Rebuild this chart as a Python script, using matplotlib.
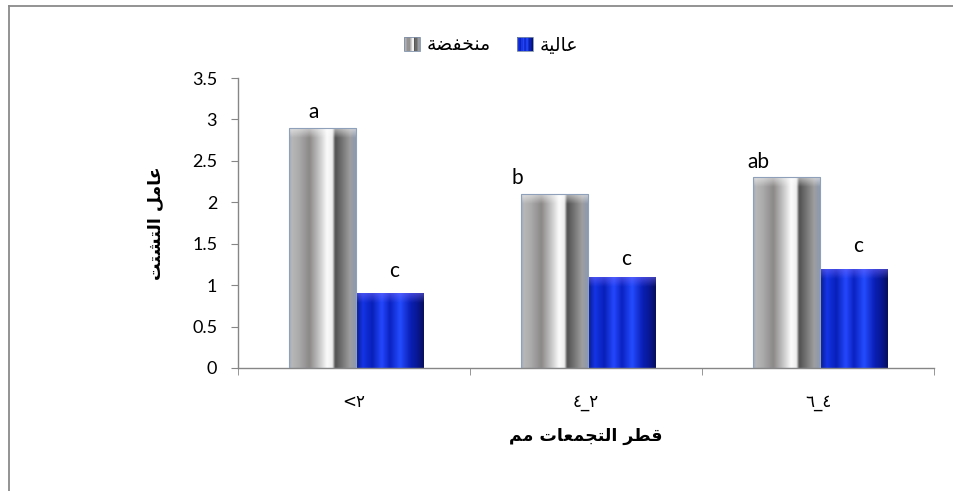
import numpy as np
import matplotlib
matplotlib.use("Agg")
import matplotlib.pyplot as plt
from matplotlib.colors import LinearSegmentedColormap
from matplotlib.legend_handler import HandlerBase
from matplotlib.patches import Rectangle, Patch
from matplotlib.lines import Line2D

# ---------------- data ----------------
# tick labels in visual (left-to-right) order
categories = ["\u003c\u0662", "\u0664_\u0662", "\u0666_\u0664"]
low_values = [2.9, 2.1, 2.3]
high_values = [0.9, 1.1, 1.2]
low_letters = ["a", "b", "ab"]
high_letters = ["c", "c", "c"]
series_names = ["منخفضة", "عالية"]
y_label = "عامل التشتت"
x_label = "قطر التجمعات مم"
y_ticks = [0, 0.5, 1, 1.5, 2, 2.5, 3, 3.5]

# ---------------- Arabic shaping (presentation forms, visual order) ----------------
FORMS = {
    "ا": (0xFE8D, 0xFE8E, None, None),
    "ة": (0xFE93, 0xFE94, None, None),
    "ر": (0xFEAD, 0xFEAE, None, None),
    "د": (0xFEA9, 0xFEAA, None, None),
    "ب": (0xFE8F, 0xFE90, 0xFE91, 0xFE92),
    "ت": (0xFE95, 0xFE96, 0xFE97, 0xFE98),
    "ج": (0xFE9D, 0xFE9E, 0xFE9F, 0xFEA0),
    "خ": (0xFEA5, 0xFEA6, 0xFEA7, 0xFEA8),
    "ش": (0xFEB5, 0xFEB6, 0xFEB7, 0xFEB8),
    "ض": (0xFEBD, 0xFEBE, 0xFEBF, 0xFEC0),
    "ط": (0xFEC1, 0xFEC2, 0xFEC3, 0xFEC4),
    "ع": (0xFEC9, 0xFECA, 0xFECB, 0xFECC),
    "ف": (0xFED1, 0xFED2, 0xFED3, 0xFED4),
    "ق": (0xFED5, 0xFED6, 0xFED7, 0xFED8),
    "ل": (0xFEDD, 0xFEDE, 0xFEDF, 0xFEE0),
    "م": (0xFEE1, 0xFEE2, 0xFEE3, 0xFEE4),
    "ن": (0xFEE5, 0xFEE6, 0xFEE7, 0xFEE8),
    "ي": (0xFEF1, 0xFEF2, 0xFEF3, 0xFEF4),
}


def shape(text):
    out = []
    n = len(text)
    for i, ch in enumerate(text):
        if ch not in FORMS:
            out.append(ch)
            continue
        prev = text[i - 1] if i > 0 else None
        nxt = text[i + 1] if i < n - 1 else None
        pj = prev in FORMS and FORMS[prev][2] is not None
        nj = nxt in FORMS and FORMS[ch][2] is not None
        iso, fin, ini, med = FORMS[ch]
        if pj and nj:
            cp = med
        elif pj:
            cp = fin
        elif nj:
            cp = ini
        else:
            cp = iso
        out.append(chr(cp))
    return "".join(reversed(out))


# ---------------- styles ----------------
gray_cmap = LinearSegmentedColormap.from_list("gray_cyl", [
    (0.00, "#9aa8bd"), (0.04, "#b8b8b8"), (0.15, "#aaaaaa"), (0.30, "#8c8888"),
    (0.45, "#c8c8c8"), (0.56, "#fbfbfb"), (0.64, "#eeeeee"), (0.68, "#505050"),
    (0.76, "#6c6c6c"), (0.90, "#9e9e9e"), (1.00, "#8898b2")])
blue_cmap = LinearSegmentedColormap.from_list("blue_str", [
    (0.00, "#0a1a88"), (0.10, "#1434e6"), (0.24, "#0820b8"), (0.38, "#2448ff"),
    (0.50, "#0a22c0"), (0.65, "#244cff"), (0.80, "#0a20b8"), (0.92, "#08168c"),
    (1.00, "#06105a")])

LATIN = "Lato"
ARABIC = "DejaVu Sans"

fig = plt.figure(figsize=(9.54, 4.91), dpi=100)
ax = fig.add_axes([238 / 954, 1 - 368 / 491, (934 - 238) / 954, (368 - 78) / 491])

x = np.arange(len(categories))
w = 0.29
shift = 0.01
bars_low = ax.bar(x - w / 2 + shift, low_values, w, facecolor="none",
                  edgecolor="#8fa0bb", lw=0.8, zorder=3)
bars_high = ax.bar(x + w / 2 + shift, high_values, w, facecolor="none",
                   edgecolor="none", zorder=3)

grad = np.linspace(0, 1, 256).reshape(1, -1)


def fill_gradient(bar, cmap, cap_color, cap_alpha):
    x0 = bar.get_x()
    bw = bar.get_width()
    h = bar.get_height()
    im = ax.imshow(grad, cmap=cmap, aspect="auto", extent=(x0, x0 + bw, 0, h),
                   zorder=2, interpolation="bicubic")
    im.set_clip_path(bar)
    # top cap highlight
    dh = 0.12
    cap = np.zeros((32, 1, 4))
    rgb = matplotlib.colors.to_rgb(cap_color)
    cap[:, 0, :3] = rgb
    cap[:, 0, 3] = np.linspace(cap_alpha, 0, 32)
    im2 = ax.imshow(cap, aspect="auto", extent=(x0, x0 + bw, h - dh, h),
                    zorder=2.5, interpolation="bilinear")
    im2.set_clip_path(bar)


for b in bars_low:
    fill_gradient(b, gray_cmap, "#ffffff", 0.55)
for b in bars_high:
    fill_gradient(b, blue_cmap, "#7a70ff", 0.5)

ax.set_xlim(-0.5, len(categories) - 0.5)
ax.set_ylim(0, 3.5)

# letters above bars
gray_dx = [-0.04, -0.16, -0.12]
for b, lab, dx in zip(bars_low, low_letters, gray_dx):
    ax.annotate(lab, (b.get_x() + b.get_width() / 2 + dx, b.get_height()),
                xytext=(0, 4), textcoords="offset points", ha="center",
                va="bottom", fontsize=15, family=LATIN)
high_dy = [9, 6, 9]
for b, lab, dy in zip(bars_high, high_letters, high_dy):
    ax.annotate(lab, (b.get_x() + b.get_width() / 2 + 0.02, b.get_height()),
                xytext=(0, dy), textcoords="offset points", ha="center",
                va="bottom", fontsize=15, family=LATIN)

# axes styling
for s in ["top", "right"]:
    ax.spines[s].set_visible(False)
for s in ["left", "bottom"]:
    ax.spines[s].set_color("#868686")
    ax.spines[s].set_linewidth(1.0)

ax.set_yticks(y_ticks)
ax.set_yticklabels([f"{v:g}" for v in y_ticks], family=LATIN, fontsize=13)
ax.tick_params(axis="y", length=5, color="#868686", pad=10)

ax.set_xticks(x)
ax.set_xticklabels(categories, family=ARABIC, fontsize=12)
ax.set_xticks(np.arange(len(categories) + 1) - 0.5, minor=True)
ax.tick_params(axis="x", which="major", length=0, pad=18)
ax.tick_params(axis="x", which="minor", length=5, color="#868686")

ax.set_ylabel(shape(y_label), family=ARABIC, fontsize=12.5, fontweight="bold")
ax.yaxis.set_label_coords((165 - 238) / (934 - 238), 0.5)
ax.set_xlabel(shape(x_label), family=ARABIC, fontsize=12.5, fontweight="bold")
ax.xaxis.set_label_coords(0.5, -(427 - 368) / (368 - 78))


# legend with gradient handles
class GradHandler(HandlerBase):
    def __init__(self, cmap, n=14):
        super().__init__()
        self.cmap = cmap
        self.n = n

    def create_artists(self, legend, orig_handle, xdescent, ydescent, width,
                       height, fontsize, trans):
        arts = []
        x0 = -xdescent
        y0 = -ydescent
        sw = width / self.n
        for i in range(self.n):
            r = Rectangle((x0 + i * sw, y0), sw * 1.05, height,
                          facecolor=self.cmap((i + 0.5) / self.n),
                          edgecolor="none", transform=trans)
            arts.append(r)
        arts.append(Rectangle((x0, y0), width, height, facecolor="none",
                              edgecolor="#7f8fa8", lw=0.6, transform=trans))
        return arts


h_low = Patch(label=shape(series_names[0]))
h_high = Patch(label=shape(series_names[1]))
fig.legend([h_low, h_high], [shape(series_names[0]), shape(series_names[1])],
           handler_map={h_low: GradHandler(gray_cmap), h_high: GradHandler(blue_cmap)},
           loc="center", bbox_to_anchor=(491 / 954, 1 - 45 / 491), ncol=2,
           frameon=False, handlelength=0.85, handleheight=0.85, handletextpad=0.35,
           columnspacing=1.4, prop={"family": ARABIC, "size": 13.5})

# outer frame (partly cut off at right and bottom)
fx = 9 / 954
fy = 1 - 6 / 491
fig.add_artist(Line2D([fx, fx], [0, fy], transform=fig.transFigure,
                      color="#8a8a8a", lw=1.3))
fig.add_artist(Line2D([fx, 1], [fy, fy], transform=fig.transFigure,
                      color="#8a8a8a", lw=1.3))

fig.savefig("out.png", dpi=100, facecolor="white")
